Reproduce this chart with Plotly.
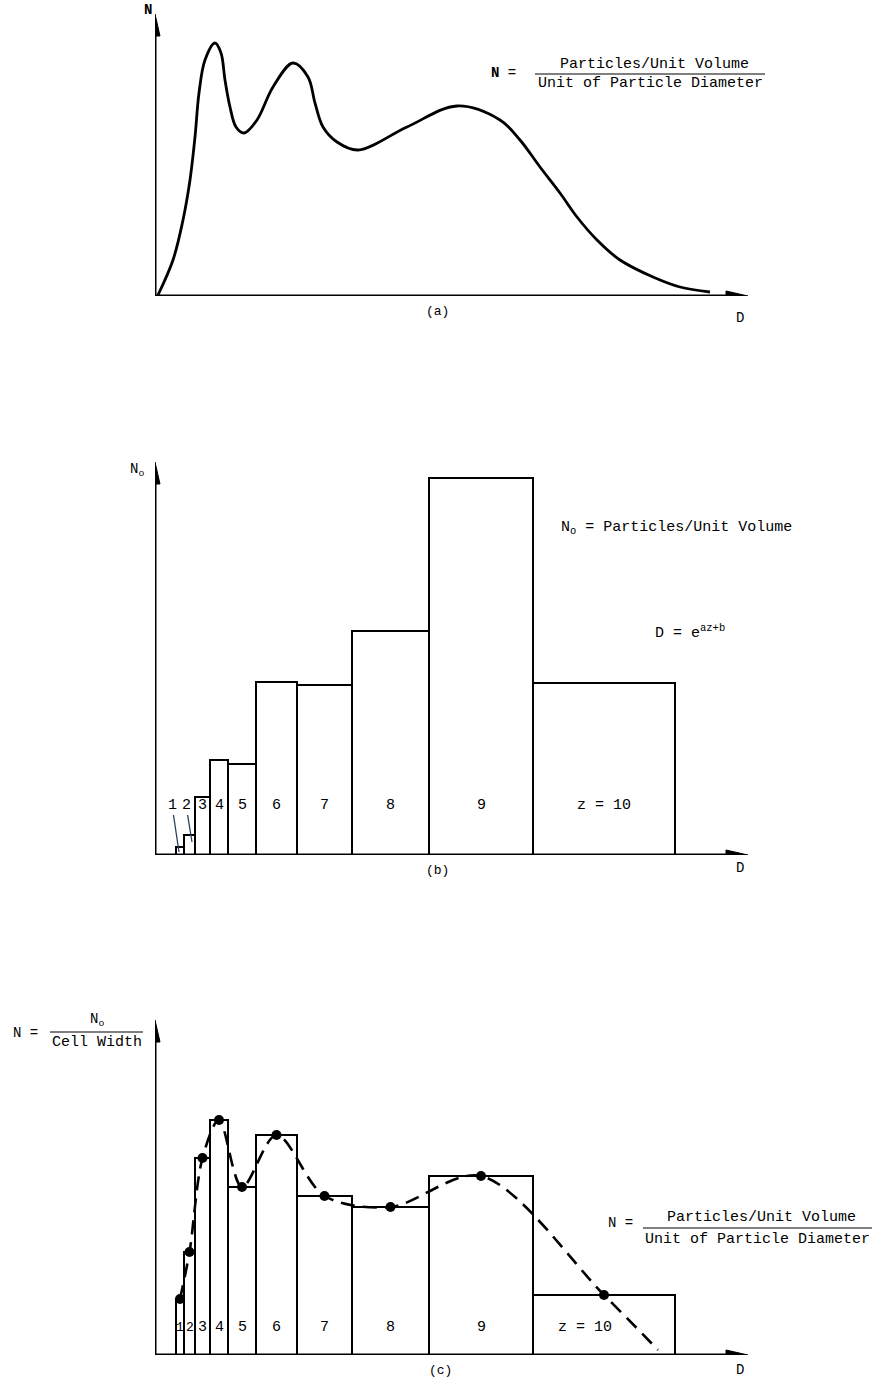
import plotly.graph_objects as go

W, H = 875, 1381

# ---------------- data (arbitrary units) ----------------
# Panel (a): continuous size distribution N(D)
a_D = [3, 18, 28, 35, 40, 44, 50, 60, 66, 70, 75, 81, 89, 102, 118, 138, 153, 160, 168, 182, 203,
       252, 302, 345, 365, 385, 405, 422, 442, 465, 498, 525, 555]
a_N = [1, 36, 76, 116, 159, 203, 236, 253, 243, 216, 189, 169, 163, 176, 209, 233, 219, 193, 169, 154, 146,
       169, 190, 176, 156, 129, 103, 79, 56, 36, 19, 9, 4]

# Cell edges along D (shared by panels b and c)
cell_edges = [21, 29, 40, 55, 73, 101, 142, 197, 274, 378, 520]
cell_labels = ["1", "2", "3", "4", "5", "6", "7", "8", "9", "z = 10"]

# Panel (b): particles per unit volume in each cell
b_No = [8, 20, 58, 95, 91, 173, 170, 224, 377, 172]

# Panel (c): N = No / cell width
c_N = [56, 103, 197, 235, 168, 220, 159, 148, 179, 60]
# end point of the dashed fitted curve
c_tail_D = [503]
c_tail_N = [5]

# ---------------- helpers ----------------
def PX(x):
    return x / W

def PY(y):
    return 1 - y / H

centers = [(cell_edges[i] + cell_edges[i + 1]) / 2 for i in range(len(cell_edges) - 1)]
widths = [cell_edges[i + 1] - cell_edges[i] for i in range(len(cell_edges) - 1)]

FONT = "Liberation Mono"
fig = go.Figure()

# (a) curve
fig.add_trace(go.Scatter(x=a_D, y=a_N, mode="lines", xaxis="x", yaxis="y",
                         line=dict(color="black", width=2.8, shape="spline", smoothing=1.0),
                         hoverinfo="skip"))

# (b) bars
fig.add_trace(go.Bar(x=centers, y=b_No, width=widths, xaxis="x2", yaxis="y2",
                     marker=dict(color="white", line=dict(color="black", width=2))))

# (c) bars
fig.add_trace(go.Bar(x=centers, y=c_N, width=widths, xaxis="x3", yaxis="y3",
                     marker=dict(color="white", line=dict(color="black", width=2))))
# (c) dashed fitted curve
fig.add_trace(go.Scatter(x=centers + c_tail_D, y=c_N + c_tail_N, mode="lines",
                         xaxis="x3", yaxis="y3",
                         line=dict(color="black", width=2.6, dash="14px,8px", shape="spline", smoothing=0.9)))
# (c) dots
fig.add_trace(go.Scatter(x=centers, y=c_N, mode="markers", xaxis="x3", yaxis="y3",
                         marker=dict(color="black", size=10)))

panels = [
    ("x", "y", 296, 6, 290, 282),
    ("x2", "y2", 855, 455, 400, 393),
    ("x3", "y3", 1355, 1015, 340, 335),
]
x_tip = 593

layout_axes = {}
shapes = []
for i, (xa, ya, base, top, yr, ytip) in enumerate(panels):
    sx = "xaxis" if i == 0 else f"xaxis{i+1}"
    sy = "yaxis" if i == 0 else f"yaxis{i+1}"
    layout_axes[sx] = dict(domain=[155 / W, 1], range=[0, 720], visible=False, anchor=ya, fixedrange=True)
    layout_axes[sy] = dict(domain=[PY(base), PY(top)], range=[0, yr], visible=False, anchor=xa, fixedrange=True)
    # axis lines
    shapes.append(dict(type="line", xref=xa, yref=ya, x0=0, y0=0, x1=x_tip - 10, y1=0,
                       line=dict(color="black", width=3), layer="above"))
    shapes.append(dict(type="line", xref=xa, yref=ya, x0=0, y0=0, x1=0, y1=ytip - 10,
                       line=dict(color="black", width=3), layer="above"))
    # arrow heads
    shapes.append(dict(type="path", xref=xa, yref=ya,
                       path=f"M {x_tip-22},-5 L {x_tip},0 L {x_tip-22},5 Z",
                       fillcolor="black", line=dict(color="black", width=1), layer="above"))
    shapes.append(dict(type="path", xref=xa, yref=ya,
                       path=f"M -5,{ytip-22} L 0,{ytip} L 5,{ytip-22} Z",
                       fillcolor="black", line=dict(color="black", width=1), layer="above"))

# fraction bars
for (x0, x1, y) in [(535, 765, 74), (50, 143, 1032), (643, 872, 1228)]:
    shapes.append(dict(type="line", xref="paper", yref="paper", x0=PX(x0), x1=PX(x1),
                       y0=PY(y), y1=PY(y), line=dict(color="black", width=1.2)))

ann = []

def T(text, x, y, size=15):
    ann.append(dict(text=text, x=PX(x), y=PY(y), xref="paper", yref="paper",
                    showarrow=False, xanchor="center", yanchor="middle",
                    font=dict(family=FONT, size=size, color="black")))

# panel (a) texts
T("<b>N</b>", 148, 10, 14)
T("(a)", 437, 311, 13)
T("D", 740, 318, 14)
T("<b>N</b> =", 503, 73, 14)
T("Particles/Unit Volume", 654, 64, 15)
T("Unit of Particle Diameter", 650, 84, 15)

# panel (b) texts
T("N<sub>o</sub>", 137, 470, 14)
T("(b)", 437, 870, 13)
T("D", 740, 868, 14)
T("N<sub>o</sub> = Particles/Unit Volume", 676, 528, 15)
T("D = e<sup>az+b</sup>", 690, 632, 15)

# panel (c) texts
T("N =", 25, 1033, 14)
T("N<sub>o</sub>", 97, 1020, 14)
T("Cell Width", 97, 1042, 15)
T("(c)", 440, 1370, 13)
T("D", 740, 1370, 14)
T("N =", 620, 1223, 14)
T("Particles/Unit Volume", 761, 1217, 15)
T("Unit of Particle Diameter", 757, 1239, 15)

LBL = dict(family=FONT, size=15, color="black")
# bar labels (b)
for i, (c, lab) in enumerate(zip(centers, cell_labels)):
    if i == 0:
        ann.append(dict(text=lab, xref="x2", yref="y2", axref="x2", ayref="y2",
                        x=24, y=3, ax=17, ay=50, showarrow=True, arrowhead=0, arrowwidth=1.3,
                        font=LBL))
    elif i == 1:
        ann.append(dict(text=lab, xref="x2", yref="y2", axref="x2", ayref="y2",
                        x=37, y=13, ax=31, ay=50, showarrow=True, arrowhead=0, arrowwidth=1.3,
                        font=LBL))
    else:
        ann.append(dict(text=lab, xref="x2", yref="y2", x=c, y=50, showarrow=False, font=LBL))

# bar labels (c)
for i, (c, lab) in enumerate(zip(centers, cell_labels)):
    ann.append(dict(text=lab, xref="x3", yref="y3", x=c, y=28, showarrow=False,
                    xshift=-19 if i == 9 else 0,
                    font=dict(family=FONT, size=13 if i < 2 else 15, color="black")))

fig.update_layout(
    width=W, height=H,
    margin=dict(l=0, r=0, t=0, b=0),
    paper_bgcolor="white", plot_bgcolor="white",
    showlegend=False, barmode="overlay",
    shapes=shapes, annotations=ann,
    **layout_axes,
)

fig.write_html("out.html", config={"displayModeBar": False},
               post_script="document.body.style.margin='0';document.body.style.overflow='hidden';")
